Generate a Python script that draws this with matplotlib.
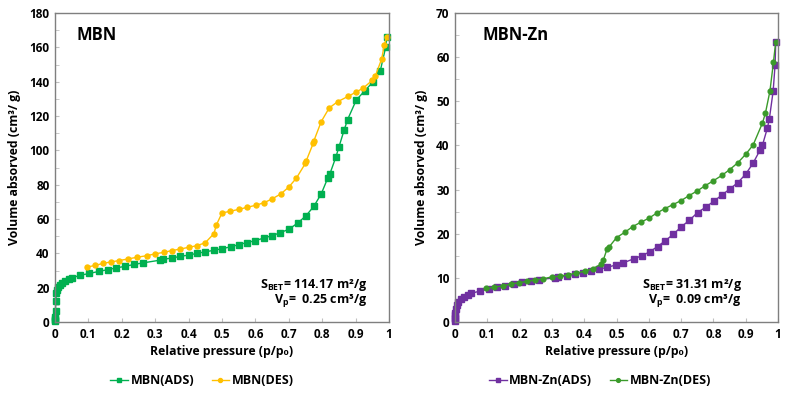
import matplotlib
matplotlib.use("Agg")
import matplotlib.pyplot as plt
from matplotlib.ticker import MultipleLocator

FAM = ['Open Sans', 'DejaVu Sans']
plt.rcParams['font.family'] = FAM
plt.rcParams['font.weight'] = 'bold'
plt.rcParams['mathtext.fontset'] = 'custom'
plt.rcParams['mathtext.rm'] = 'Open Sans:bold'
plt.rcParams['mathtext.bf'] = 'Open Sans:bold'
plt.rcParams['mathtext.it'] = 'Open Sans:bold'

# ---------------- data ----------------
mbn_ads_p = [0.0003, 0.0005, 0.0008, 0.001, 0.0015, 0.002, 0.004, 0.007, 0.01, 0.015, 0.02, 0.03, 0.041, 0.052,
             0.075, 0.103, 0.132, 0.158, 0.183, 0.209, 0.236, 0.262,
             0.314, 0.324, 0.35, 0.375, 0.40, 0.426, 0.45, 0.477, 0.50, 0.526, 0.551, 0.575, 0.60, 0.625, 0.65,
             0.674, 0.70, 0.727, 0.752, 0.775, 0.797,
             0.817, 0.823, 0.841, 0.85, 0.866, 0.876, 0.902, 0.927, 0.951, 0.974, 0.99, 0.993]
mbn_ads_v = [0.3, 1.0, 2.0, 3.0, 6.5, 12.0, 16.7, 18.6, 20.2, 21.5, 22.5, 23.9, 24.9, 25.8,
             27.2, 28.3, 29.5, 30.5, 31.5, 32.4, 33.5, 34.4,
             36.0, 36.5, 37.3, 38.2, 39.0, 40.0, 40.9, 41.8, 42.7, 43.8, 45.1, 46.3, 47.4, 48.9, 50.3,
             52.0, 54.0, 57.7, 62.0, 67.4, 74.6,
             84.0, 86.3, 96.1, 101.9, 112.0, 117.9, 129.3, 134.6, 139.6, 146.4, 160.0, 166.0]

mbn_des_p = [0.096, 0.121, 0.145, 0.168, 0.192, 0.218, 0.245, 0.274, 0.30, 0.326, 0.35, 0.375, 0.40, 0.426, 0.45,
             0.476, 0.483,
             0.50, 0.524, 0.55, 0.575, 0.601, 0.626, 0.65, 0.676, 0.70, 0.723,
             0.750, 0.752, 0.773, 0.775, 0.797, 0.821, 0.846, 0.878, 0.902, 0.923, 0.95, 0.959, 0.978, 0.986, 0.993]
mbn_des_v = [32.0, 33.0, 34.2, 35.0, 35.8, 36.7, 37.7, 38.6, 39.7, 40.6, 41.6, 42.5, 43.5, 44.5, 46.2,
             51.5, 56.5,
             63.5, 64.5, 65.6, 66.8, 68.0, 69.5, 71.7, 74.6, 78.6, 83.9,
             92.5, 93.8, 104.0, 105.5, 116.7, 124.7, 128.3, 131.5, 134.0, 136.3, 140.8, 143.3, 153.2, 161.4, 166.0]

zn_ads_p = [0.0005, 0.0007, 0.001, 0.0012, 0.0015, 0.002, 0.005, 0.01, 0.018, 0.028, 0.04, 0.05,
            0.077, 0.104, 0.130, 0.156, 0.182, 0.208, 0.234, 0.259,
            0.31, 0.32, 0.347, 0.371, 0.397, 0.421, 0.447, 0.472, 0.497, 0.521,
            0.553, 0.578, 0.603, 0.627, 0.651, 0.676, 0.701, 0.725, 0.751, 0.776, 0.802, 0.827, 0.852, 0.876, 0.900,
            0.923, 0.944, 0.952, 0.967, 0.973, 0.985, 0.991, 0.993]
zn_ads_v = [0.2, 0.6, 1.0, 1.5, 2.0, 2.9, 3.8, 4.6, 5.2, 5.7, 6.2, 6.5,
            7.0, 7.5, 7.9, 8.2, 8.6, 9.0, 9.3, 9.6,
            10.0, 10.2, 10.5, 10.8, 11.1, 11.5, 12.0, 12.4, 12.9, 13.4,
            14.3, 15.0, 15.9, 17.1, 18.4, 19.9, 21.6, 23.0, 24.8, 26.0, 27.4, 28.8, 30.2, 31.6, 33.5,
            36.0, 38.9, 40.1, 43.9, 45.9, 52.3, 58.3, 63.5]

zn_des_p = [0.097, 0.122, 0.148, 0.173, 0.198, 0.224, 0.248, 0.273, 0.299, 0.325, 0.351, 0.376, 0.402, 0.427, 0.452,
            0.459, 0.471, 0.476,
            0.5, 0.525, 0.55, 0.575, 0.6, 0.625, 0.65, 0.675, 0.7, 0.724, 0.75, 0.775, 0.8, 0.826, 0.85, 0.876, 0.9,
            0.923, 0.952, 0.961, 0.975, 0.986, 0.993]
zn_des_v = [7.6, 7.9, 8.2, 8.6, 8.9, 9.2, 9.5, 9.8, 10.2, 10.4, 10.7, 11.1, 11.5, 12.1, 13.1,
            14.0, 16.6, 16.9,
            19.1, 20.3, 21.6, 22.6, 23.5, 24.7, 25.7, 26.6, 27.5, 28.6, 29.7, 30.9, 32.0, 33.2, 34.5, 36.1, 38.0,
            40.1, 45.1, 47.3, 52.3, 58.9, 63.5]

x_ticks = [0, 0.1, 0.2, 0.3, 0.4, 0.5, 0.6, 0.7, 0.8, 0.9, 1]
x_labels = ['0', '0.1', '0.2', '0.3', '0.4', '0.5', '0.6', '0.7', '0.8', '0.9', '1']

# ---------------- figure ----------------
fig = plt.figure(figsize=(7.89, 3.93), dpi=100)
ax1 = fig.add_axes([55/789, 71/393, 334/789, 309/393])
ax2 = fig.add_axes([455/789, 71/393, 323/789, 309/393])

C_ADS1 = '#00B050'
C_DES1 = '#FFC000'
C_ADS2 = '#7030A0'
C_DES2 = '#3A9A2A'


def style(ax, ymax, ystep):
    ax.set_xlim(0, 1)
    ax.set_ylim(0, ymax)
    ax.set_xticks(x_ticks)
    ax.set_xticklabels(x_labels)
    ax.yaxis.set_major_locator(MultipleLocator(ystep))
    ax.yaxis.set_minor_locator(MultipleLocator(ystep / 2))
    for s in ax.spines.values():
        s.set_color('#7f7f7f')
        s.set_linewidth(1.0)
    ax.tick_params(axis='both', which='both', direction='in', color='#c0c0c0',
                   labelsize=8.5, pad=4)
    ax.tick_params(axis='both', which='major', length=3)
    ax.tick_params(axis='y', which='minor', length=3)
    for lab in ax.get_xticklabels() + ax.get_yticklabels():
        lab.set_fontweight('bold')
        lab.set_family(FAM)
    ax.set_xlabel('Relative pressure (p/p₀)', fontsize=8.8, fontweight='bold', labelpad=3)
    ax.set_ylabel('Volume absorved (cm³/ g)', fontsize=8.8, fontweight='bold', labelpad=6)


l1, = ax1.plot(mbn_ads_p, mbn_ads_v, color=C_ADS1, marker='s', ms=4.2, lw=1.0, label='MBN(ADS)', clip_on=False)
l2, = ax1.plot(mbn_des_p, mbn_des_v, color=C_DES1, marker='o', ms=3.6, lw=1.0, label='MBN(DES)', clip_on=False)
style(ax1, 180, 20)
ax1.text(0.065, 0.928, 'MBN', transform=ax1.transAxes, fontsize=12, fontweight='bold', va='center')
ax1.text(0.935, 0.12, r'S$_{\mathrm{BET}}$= 114.17 m²/g', transform=ax1.transAxes,
         fontsize=9, fontweight='bold', ha='right', va='center')
ax1.text(0.935, 0.07, r'V$_{\mathrm{p}}$=  0.25 cm³/g', transform=ax1.transAxes,
         fontsize=9, fontweight='bold', ha='right', va='center')
leg1 = fig.legend(handles=[l1, l2], loc='center', bbox_to_anchor=(202/789, 1 - 381/393), ncol=2,
                  frameon=False, fontsize=9, handlelength=1.4, columnspacing=1.4, handletextpad=0.2,
                  markerscale=0.8)
for t in leg1.get_texts():
    t.set_fontweight('bold')

l3, = ax2.plot(zn_ads_p, zn_ads_v, color=C_ADS2, marker='s', ms=4.2, lw=1.0, label='MBN-Zn(ADS)', clip_on=False)
l4, = ax2.plot(zn_des_p, zn_des_v, color=C_DES2, marker='o', ms=3.4, lw=1.0, label='MBN-Zn(DES)', clip_on=False)
style(ax2, 70, 10)
ax2.text(0.085, 0.928, 'MBN-Zn', transform=ax2.transAxes, fontsize=12, fontweight='bold', va='center')
ax2.text(0.888, 0.12, r'S$_{\mathrm{BET}}$= 31.31 m²/g', transform=ax2.transAxes,
         fontsize=9, fontweight='bold', ha='right', va='center')
ax2.text(0.888, 0.07, r'V$_{\mathrm{p}}$=  0.09 cm³/g', transform=ax2.transAxes,
         fontsize=9, fontweight='bold', ha='right', va='center')
leg2 = fig.legend(handles=[l3, l4], loc='center', bbox_to_anchor=(600/789, 1 - 381/393), ncol=2,
                  frameon=False, fontsize=9, handlelength=1.4, columnspacing=1.4, handletextpad=0.2,
                  markerscale=0.8)
for t in leg2.get_texts():
    t.set_fontweight('bold')

fig.savefig('out.png', dpi=100)
